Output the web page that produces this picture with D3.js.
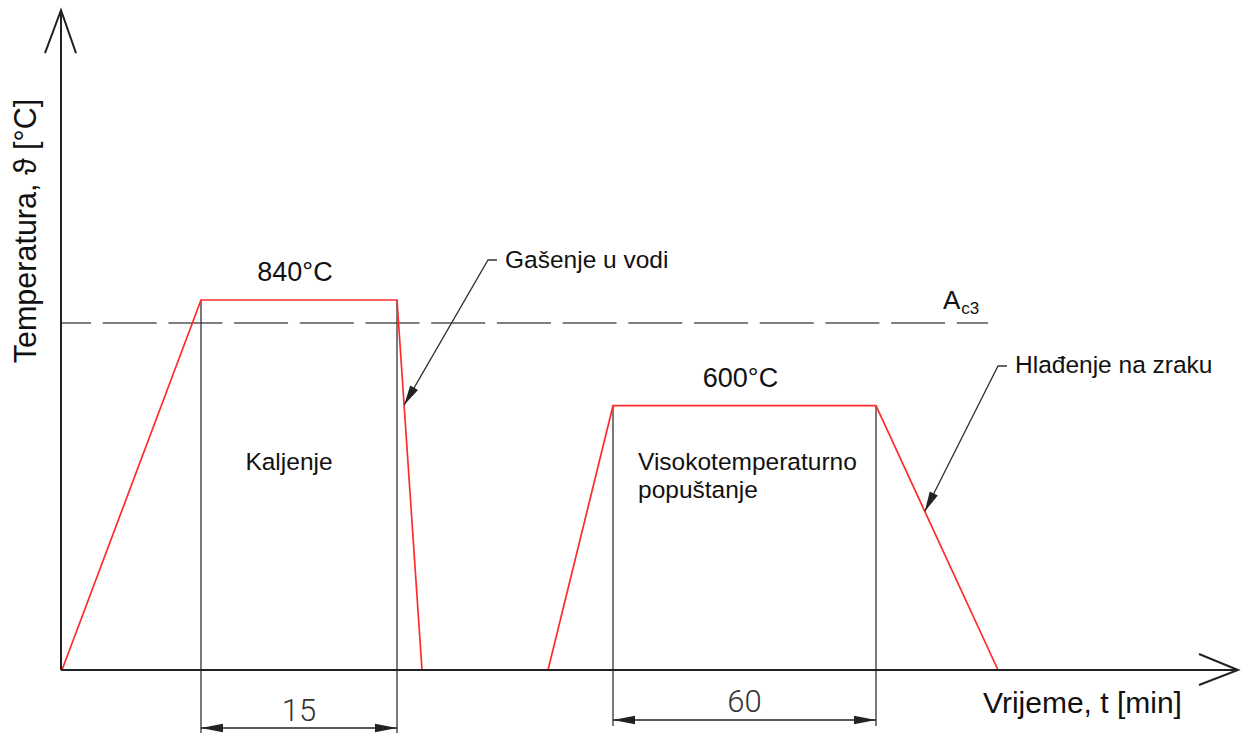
<!DOCTYPE html>
<html>
<head>
<meta charset="utf-8">
<script src="https://cdn.jsdelivr.net/npm/d3@7"></script>
<style>
  html, body { margin: 0; padding: 0; background: #fff; }
  svg { display: block; }
  text { font-family: "Liberation Sans", Arial, sans-serif; fill: #111; }
  .cad { font-family: "Roboto", "Inter", "DejaVu Sans", sans-serif; font-weight: 300; fill: #333; }
</style>
</head>
<body>
<svg id="chart" width="1244" height="734"></svg>
<script>
// ---- data (schematic time units, temperature in °C) ----
const quenchTimes = [0, 13.9, 33.5, 36.0];
const quenchTemps = [0, 840, 840, 0];
const temperTimes = [48.6, 55.1, 81.4, 93.6];
const temperTemps = [0, 600, 600, 0];
const holdLabels = ["15", "60"];
const plateauLabels = ["840°C", "600°C"];
const processLabels = ["Kaljenje", "Visokotemperaturno", "popuštanje"];
const coolingLabels = ["Gašenje u vodi", "Hlađenje na zraku"];
const ac3Temp = 788;
const axisMaxTime = 117.6;
const axisMaxTemp = 1498;

const svg = d3.select("#chart");
const x = d3.scaleLinear().domain([0, 10]).range([62, 162]);
const y = d3.scaleLinear().domain([0, 840]).range([670, 300]);

const RED = "#ff2b2b", INK = "#222", GREY = "#555";

// helper: filled arrowhead pointing at (tx,ty) coming from (fx,fy)
function arrowHead(g, fx, fy, tx, ty, len, hw) {
  const dx = tx - fx, dy = ty - fy, L = Math.hypot(dx, dy);
  const ux = dx / L, uy = dy / L;
  const bx = tx - ux * len, by = ty - uy * len;
  const px = -uy * hw, py = ux * hw;
  g.append("path")
    .attr("d", `M${tx},${ty}L${bx + px},${by + py}L${bx - px},${by - py}Z`)
    .attr("fill", INK);
}

// ---- Ac3 dashed line ----
const ac3Y = y(ac3Temp);
svg.append("line")
  .attr("x1", x(0)).attr("x2", 988).attr("y1", ac3Y).attr("y2", ac3Y)
  .attr("stroke", GREY).attr("stroke-width", 1.5)
  .attr("stroke-dasharray", "54,11.7").attr("stroke-dashoffset", 25);

// ---- vertical extension lines ----
const ext = [
  {t: quenchTimes[1], temp: quenchTemps[1], bottom: 733},
  {t: quenchTimes[2], temp: quenchTemps[2], bottom: 733},
  {t: temperTimes[1], temp: temperTemps[1], bottom: 726},
  {t: temperTimes[2], temp: temperTemps[2], bottom: 726}
];
svg.selectAll(".ext").data(ext).enter().append("line")
  .attr("x1", d => x(d.t)).attr("x2", d => x(d.t))
  .attr("y1", d => y(d.temp)).attr("y2", d => d.bottom)
  .attr("stroke", "#333").attr("stroke-width", 1.3);

// ---- dimension lines ----
const dims = [
  {t0: quenchTimes[1], t1: quenchTimes[2], yy: 728, label: holdLabels[0], ty: 721},
  {t0: temperTimes[1], t1: temperTimes[2], yy: 720, label: holdLabels[1], ty: 712}
];
dims.forEach(d => {
  const g = svg.append("g");
  const a = x(d.t0), b = x(d.t1);
  g.append("line").attr("x1", a).attr("x2", b).attr("y1", d.yy).attr("y2", d.yy)
    .attr("stroke", INK).attr("stroke-width", 1.3);
  arrowHead(g, b, d.yy, a, d.yy, 22, 4.2);
  arrowHead(g, a, d.yy, b, d.yy, 22, 4.2);
  g.append("text").attr("class", "cad").attr("x", (a + b) / 2).attr("y", d.ty)
    .attr("text-anchor", "middle").attr("font-size", 31).text(d.label);
});

// ---- heat treatment curves ----
const line = d3.line().x(d => x(d[0])).y(d => y(d[1]));
[[quenchTimes, quenchTemps], [temperTimes, temperTemps]].forEach(([ts, vs]) => {
  svg.append("path")
    .datum(ts.map((t, i) => [t, vs[i]]))
    .attr("d", line)
    .attr("fill", "none").attr("stroke", RED).attr("stroke-width", 1.7)
    .attr("stroke-linejoin", "miter");
});

// ---- axes ----
const ax = svg.append("g").attr("stroke", INK).attr("stroke-width", 2).attr("fill", "none");
const ox = x(0) - 1, oy = y(0);
const yTop = y(axisMaxTemp), xEnd = x(axisMaxTime);
ax.append("line").attr("x1", ox).attr("y1", oy).attr("x2", ox).attr("y2", yTop);
ax.append("line").attr("x1", ox).attr("y1", oy).attr("x2", xEnd).attr("y2", oy);
ax.append("path").attr("d", `M${ox - 16},${yTop + 43}L${ox},${yTop}L${ox + 15},${yTop + 43}`);
ax.append("path").attr("d", `M${xEnd - 39},${oy - 16}L${xEnd},${oy}L${xEnd - 39},${oy + 15}`);

// ---- axis titles ----
svg.append("text").attr("x", 983).attr("y", 713).attr("font-size", 30)
  .text("Vrijeme, t [min]");
svg.append("text").attr("transform", "translate(36,231) rotate(-90)")
  .attr("text-anchor", "middle").attr("font-size", 30.5)
  .text("Temperatura, ϑ [°C]");

// ---- plateau temperatures ----
svg.append("text").attr("x", (x(quenchTimes[1]) + x(quenchTimes[2])) / 2 - 4)
  .attr("y", y(quenchTemps[1]) - 19).attr("text-anchor", "middle").attr("font-size", 27)
  .text(plateauLabels[0]);
svg.append("text").attr("x", (x(temperTimes[1]) + x(temperTemps[2] === 600 ? temperTimes[2] : temperTimes[2])) / 2 - 4)
  .attr("y", y(temperTemps[1]) - 19).attr("text-anchor", "middle").attr("font-size", 27)
  .text(plateauLabels[1]);

// ---- Ac3 label ----
const ac3T = svg.append("text").attr("x", 943).attr("y", ac3Y - 14).attr("font-size", 26);
ac3T.append("tspan").text("A");
ac3T.append("tspan").attr("font-size", 17).attr("dy", 5).attr("dx", 1).text("c3");

// ---- process labels ----
svg.append("text").attr("x", 289).attr("y", 470).attr("text-anchor", "middle")
  .attr("font-size", 24.5).text(processLabels[0]);
svg.append("text").attr("x", 638).attr("y", 470).attr("font-size", 24.5).text(processLabels[1]);
svg.append("text").attr("x", 638).attr("y", 498).attr("font-size", 24.5).text(processLabels[2]);

// ---- cooling leaders ----
function onSegment(ts, vs, i, f) {
  const x0 = x(ts[i]), y0 = y(vs[i]), x1 = x(ts[i + 1]), y1 = y(vs[i + 1]);
  return [x0 + (x1 - x0) * f, y0 + (y1 - y0) * f];
}
const leaders = [
  {target: onSegment(quenchTimes, quenchTemps, 2, 0.284), elbow: [488, 260], label: coolingLabels[0], lx: 505, ly: 268},
  {target: onSegment(temperTimes, temperTemps, 2, 0.40), elbow: [998, 366], label: coolingLabels[1], lx: 1015, ly: 373}
];
leaders.forEach(d => {
  const g = svg.append("g");
  const [tx, ty] = d.target, [ex, ey] = d.elbow;
  g.append("path").attr("d", `M${ex + 9},${ey}L${ex},${ey}L${tx},${ty}`)
    .attr("fill", "none").attr("stroke", "#333").attr("stroke-width", 1.3);
  arrowHead(g, ex, ey, tx, ty, 20, 4.5);
  g.append("text").attr("x", d.lx).attr("y", d.ly).attr("font-size", 24.5).text(d.label);
});
</script>
</body>
</html>
